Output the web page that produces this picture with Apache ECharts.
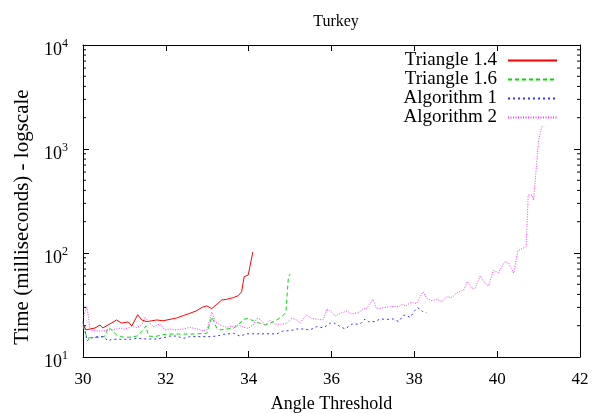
<!DOCTYPE html>
<html>
<head>
<meta charset="utf-8">
<script src="https://cdn.jsdelivr.net/npm/echarts@6/dist/echarts.min.js"></script>
<style>
  html, body { margin: 0; padding: 0; background: #fff; }
  #main { width: 597px; height: 414px; }
</style>
</head>
<body>
<div id="main"></div>
<script>
// Turkey - time vs angle threshold (log scale)
var FONT = 'Liberation Serif';

var t14X = [30.0, 30.07, 30.17, 30.29, 30.41, 30.48, 30.65, 30.81, 30.93, 31.09, 31.18, 31.32, 31.42, 31.54, 31.66, 31.78, 31.93, 32.1, 32.26, 32.42, 32.58, 32.75, 32.87, 32.99, 33.11, 33.23, 33.35, 33.47, 33.63, 33.75, 33.83, 33.89, 33.99, 34.1];
var t14Y = [21, 18.2, 18.6, 19, 20.3, 19, 20.8, 22.7, 21.2, 21.7, 19.9, 25.5, 22.7, 21.9, 22.3, 22.7, 22.3, 23, 23.7, 25, 26.3, 27.9, 30, 31, 29.2, 32.1, 35.3, 35.9, 37.2, 38.9, 42.4, 59, 61.5, 102];

var t16X = [30.0, 30.1, 30.25, 30.41, 30.53, 30.61, 30.69, 30.81, 30.97, 31.14, 31.3, 31.46, 31.52, 31.58, 31.74, 31.9, 32.02, 32.3, 32.6, 32.99, 33.11, 33.23, 33.31, 33.47, 33.63, 33.75, 33.87, 33.99, 34.11, 34.23, 34.4, 34.52, 34.68, 34.84, 34.9, 34.96, 35.0];
var t16Y = [20, 15.1, 15.5, 15.3, 15.9, 19.3, 18.2, 16.3, 15.5, 15.5, 15.9, 18.2, 20, 15.9, 15.7, 16.3, 16.6, 16.6, 16.6, 16.9, 24.3, 18.9, 18.2, 18.6, 18.9, 20.3, 23, 23.5, 22.3, 21.4, 20.3, 21.1, 22.7, 25.3, 27.2, 59, 63];

var a1X = [30.0, 30.1, 30.17, 30.33, 30.48, 30.61, 30.69, 30.89, 31.14, 31.3, 31.54, 31.78, 31.94, 32.1, 32.26, 32.42, 32.58, 33.07, 33.23, 33.39, 33.63, 33.79, 33.95, 34.68, 34.84, 35.0, 35.16, 35.32, 35.48, 35.64, 35.8, 35.97, 36.05, 36.21, 36.33, 36.49, 36.69, 36.81, 36.89, 37.05, 37.17, 37.33, 37.5, 37.62, 37.74, 37.82, 37.9, 37.98, 38.07, 38.14, 38.22, 38.29];
var a1Y = [22, 14.3, 15.1, 15.7, 15.7, 14.3, 14.8, 14.8, 14.8, 15.1, 14.9, 14.9, 15.3, 15.9, 15.9, 15.1, 15.7, 15.7, 15.9, 16.5, 16.9, 15.9, 16.7, 16.7, 17.8, 17.9, 18.6, 18.6, 18.2, 19.6, 19.1, 21.1, 21.4, 19.6, 18.6, 20.7, 20.7, 23.2, 21.9, 21.9, 23.2, 23, 23.2, 21.9, 25.3, 25, 24, 26.9, 29.8, 29, 26.9, 26.7];

var a2X = [30.0, 30.09, 30.13, 30.17, 30.33, 30.49, 30.65, 30.77, 30.89, 31.01, 31.18, 31.3, 31.42, 31.5, 31.58, 31.7, 31.86, 31.98, 32.1, 32.22, 32.42, 32.58, 32.75, 32.91, 32.99, 33.11, 33.19, 33.31, 33.47, 33.63, 33.75, 33.87, 33.99, 34.11, 34.2, 34.28, 34.4, 34.52, 34.64, 34.8, 34.92, 35.04, 35.12, 35.24, 35.4, 35.52, 35.68, 35.8, 35.89, 36.01, 36.09, 36.21, 36.37, 36.49, 36.65, 36.77, 36.85, 37.0, 37.09, 37.25, 37.42, 37.62, 37.7, 37.8, 37.9, 38.06, 38.14, 38.21, 38.3, 38.42, 38.54, 38.66, 38.79, 38.91, 39.03, 39.19, 39.28, 39.39, 39.47, 39.59, 39.71, 39.79, 39.91, 40.03, 40.19, 40.28, 40.4, 40.5, 40.6, 40.7, 40.75, 40.84, 40.88, 40.96, 41.0, 41.09];
var a2Y = [23.5, 30.5, 24.4, 18.2, 17.8, 17.8, 18.2, 18.5, 18.9, 18.5, 19.6, 19.3, 20.3, 24.1, 21.9, 19.6, 20.7, 18.2, 18.6, 18.2, 18.6, 19.3, 18.6, 17.8, 18.2, 27, 21.9, 20.3, 19.3, 19.8, 20.3, 19.3, 18.9, 20.3, 23.5, 23, 20.3, 22.7, 20.7, 20.7, 21.1, 23.5, 23.2, 21.4, 25.3, 23.5, 23, 22.7, 29, 26.9, 24.8, 26.3, 27.7, 25.9, 26.7, 29, 29.4, 35.9, 29, 29.8, 30.5, 30.5, 32.1, 31, 33.3, 32.8, 38, 42.4, 36.6, 34.8, 35.9, 34.2, 38, 37.4, 41.5, 44, 53, 45.9, 45.9, 60, 51, 48.2, 68, 65, 83, 79.6, 64, 105, 110, 115, 361, 361, 322, 785, 1220, 1700];

var xTicks = [30, 32, 34, 36, 38, 40, 42];
var minorTickValues = [20, 30, 40, 50, 60, 70, 80, 90, 200, 300, 400, 500, 600, 700, 800, 900, 2000, 3000, 4000, 5000, 6000, 7000, 8000, 9000];

function zip(xs, ys) {
  var out = [];
  for (var i = 0; i < xs.length; i++) out.push([xs[i], ys[i]]);
  return out;
}

var chart = echarts.init(document.getElementById('main'));

function lineSeries(name, xs, ys, color, type) {
  return {
    name: name,
    type: 'line',
    data: zip(xs, ys),
    showSymbol: false,
    symbol: 'none',
    silent: true,
    animation: false,
    lineStyle: { color: color, width: 1, type: type },
    itemStyle: { color: color }
  };
}

var option = {
  animation: false,
  title: {
    text: 'Turkey',
    left: 331,
    top: 9,
    textAlign: 'center',
    textStyle: { fontFamily: FONT, fontSize: 16, fontWeight: 'normal', color: '#000' }
  },
  // y axis title drawn as rotated text so it can sit where the original has it
  graphic: [{
    type: 'text',
    x: 22,
    y: 217,
    rotation: Math.PI / 2,
    style: {
      text: 'Time (milliseconds) - logscale',
      font: '21px "Liberation Serif"',
      fill: '#000',
      textAlign: 'center',
      textVerticalAlign: 'middle'
    }
  }],
  legend: {
    orient: 'vertical',
    right: 34,
    top: 46,
    align: 'right',
    itemWidth: 49,
    itemHeight: 12,
    itemGap: 0,
    itemStyle: { opacity: 0 },
    data: ['Triangle 1.4', 'Triangle 1.6', 'Algorithm 1', 'Algorithm 2'],
    textStyle: { fontFamily: FONT, fontSize: 19, color: '#000', lineHeight: 18, padding: [0, 6, 0, 0] }
  },
  grid: { left: 83, right: 17, top: 45, bottom: 57, outerBoundsMode: 'none' },
  xAxis: [{
    type: 'value',
    min: 30, max: 42, interval: 2,
    name: 'Angle Threshold',
    nameLocation: 'middle',
    nameGap: 38,
    nameTextStyle: { fontFamily: FONT, fontSize: 18, color: '#000' },
    axisLine: { lineStyle: { color: '#000', width: 1 } },
    axisTick: { inside: true, length: 6, lineStyle: { color: '#000' } },
    axisLabel: { fontFamily: FONT, fontSize: 17, color: '#000', margin: 14,
      formatter: function (v) { return xTicks.indexOf(v) >= 0 ? String(v) : ''; } },
    splitLine: { show: false }
  }, {
    type: 'value',
    position: 'top',
    min: 30, max: 42, interval: 2,
    axisLine: { lineStyle: { color: '#000', width: 1 } },
    axisTick: { inside: true, length: 6, lineStyle: { color: '#000' } },
    axisLabel: { show: false },
    splitLine: { show: false }
  }],
  yAxis: [{
    type: 'log',
    logBase: 10,
    min: 10, max: 10000,
    axisLine: { lineStyle: { color: '#000', width: 1 } },
    axisTick: { inside: true, length: 6, lineStyle: { color: '#000' } },
    axisLabel: {
      margin: 15,
      padding: [3, 0, 0, 0],
      formatter: function (v) {
        var e = Math.round(Math.log10(v));
        return '{b|10}{s|' + e + '}';
      },
      rich: {
        b: { fontFamily: FONT, fontSize: 18, color: '#000', padding: [8, 0, 0, 0] },
        s: { fontFamily: FONT, fontSize: 12, color: '#000', padding: [0, 0, 6, 0] }
      }
    },
    splitLine: { show: false }
  }, {
    type: 'log',
    logBase: 10,
    min: 10, max: 10000,
    position: 'right',
    axisLine: { lineStyle: { color: '#000', width: 1 } },
    axisTick: { inside: true, length: 6, lineStyle: { color: '#000' } },
    axisLabel: { show: false },
    splitLine: { show: false }
  }],
  series: [
    lineSeries('Triangle 1.4', t14X, t14Y, '#ff0000', 'solid'),
    lineSeries('Triangle 1.6', t16X, t16Y, '#00dd00', [4, 3]),
    lineSeries('Algorithm 1', a1X, a1Y, '#3333ff', [2, 3]),
    lineSeries('Algorithm 2', a2X, a2Y, '#ff33ff', [1, 1.5]),
    {
      // minor log ticks on both sides of the frame
      type: 'custom',
      silent: true,
      animation: false,
      data: minorTickValues.map(function (v) { return [30, v]; }),
      renderItem: function (params, api) {
        var l = api.coord([30, api.value(1)]);
        var r = api.coord([42, api.value(1)]);
        var st = { stroke: '#000', lineWidth: 1 };
        return {
          type: 'group',
          children: [
            { type: 'line', shape: { x1: l[0], y1: l[1], x2: l[0] + 3, y2: l[1] }, style: st },
            { type: 'line', shape: { x1: r[0] - 3, y1: r[1], x2: r[0], y2: r[1] }, style: st }
          ]
        };
      }
    }
  ]
};

chart.setOption(option);
</script>
</body>
</html>
